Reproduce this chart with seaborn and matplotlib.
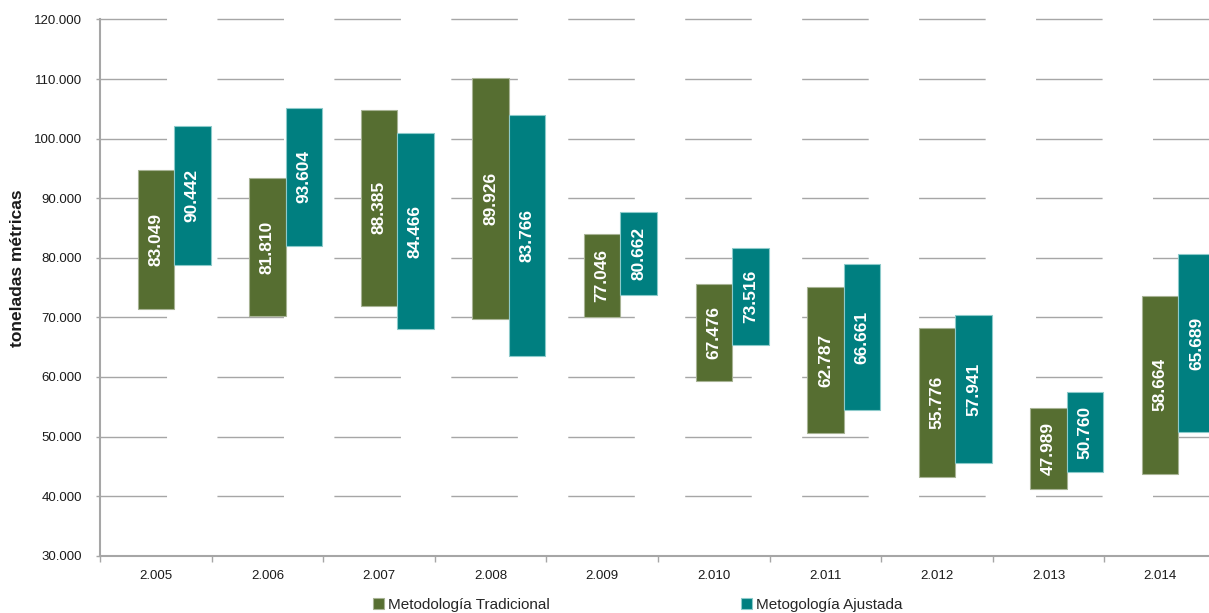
import numpy as np
import pandas as pd
import matplotlib
matplotlib.use('Agg')
import matplotlib.pyplot as plt
from matplotlib.ticker import FuncFormatter
import seaborn as sns

# years on the x axis (shown with a dot, as in the source)
years = ['2.005', '2.006', '2.007', '2.008', '2.009', '2.010', '2.011', '2.012', '2.013', '2.014']

# Metodologia Tradicional: low / high end of each floating bar and its label
trad_low = [71360, 70235, 71964, 69700, 70017, 59376, 50548, 43264, 41249, 43767]
trad_high = [94740, 93397, 104810, 110150, 84049, 75556, 75052, 68221, 54744, 73592]
trad_label = [83049, 81810, 88385, 89926, 77046, 67476, 62787, 55776, 47989, 58664]

# Metogologia Ajustada
ajus_low = [78744, 81984, 68000, 63522, 73710, 65418, 54458, 45512, 44002, 50766]
ajus_high = [102125, 105197, 100900, 103971, 87691, 81598, 78913, 70403, 57480, 80642]
ajus_label = [90442, 93604, 84466, 83766, 80662, 73516, 66661, 57941, 50760, 65689]

green = '#566E31'
teal = '#007F80'

sns.set_style('white')
plt.rcParams['font.family'] = ['Liberation Sans', 'DejaVu Sans']
plt.rcParams['lines.scale_dashes'] = False


def miles(v, pos=None):
    return f'{v:,.0f}'.replace(',', '.')


fig = plt.figure(figsize=(12.09, 6.13), dpi=100)
# the plot runs a little past the right edge of the picture, like the source
ax = fig.add_axes([100 / 1209, 57.3 / 613, 1116 / 1209, 536.2 / 613])

bar_w = 0.327
idx = np.arange(len(years))

df_trad = pd.DataFrame({'pos': idx, 'alto': np.array(trad_high) - np.array(trad_low)})
df_ajus = pd.DataFrame({'pos': idx + bar_w, 'alto': np.array(ajus_high) - np.array(ajus_low)})

sns.barplot(data=df_trad, x='pos', y='alto', bottom=trad_low, native_scale=True, width=bar_w,
            color=green, saturation=1, edgecolor='#A7B394', linewidth=0.8, errorbar=None,
            label='Metodología Tradicional', ax=ax, zorder=3)
sns.barplot(data=df_ajus, x='pos', y='alto', bottom=ajus_low, native_scale=True, width=bar_w,
            color=teal, saturation=1, edgecolor='#8CCACA', linewidth=0.8, errorbar=None,
            label='Metogología Ajustada', ax=ax, zorder=3)
if ax.get_legend() is not None:
    ax.get_legend().remove()

# value labels, rotated, in the middle of each bar
for i in range(len(years)):
    ax.text(idx[i], trad_label[i], miles(trad_label[i]), rotation=90, ha='center', va='center',
            color='white', fontsize=12.5, fontweight='bold', zorder=4)
    ax.text(idx[i] + bar_w, ajus_label[i], miles(ajus_label[i]), rotation=90, ha='center', va='center',
            color='white', fontsize=12.5, fontweight='bold', zorder=4)

ax.set_xlim(-0.5, len(years) - 0.5)
ax.set_ylim(30000, 120000)
ax.set_yticks(np.arange(30000, 120001, 10000))
ax.yaxis.set_major_formatter(FuncFormatter(miles))
ax.set_xticks(idx)
ax.set_xticklabels(years)
ax.set_xticks(np.arange(len(years) + 1) - 0.5, minor=True)
ax.set_xlabel('')
ax.set_ylabel('')

# broken grid lines like in the original
ax.yaxis.grid(True, color='#A6A6A6', lw=1.0, linestyle=(0, (47.9, 36.3)))
ax.xaxis.grid(False)
ax.set_axisbelow(True)
for gl in ax.get_ygridlines():
    gl.set_clip_on(False)
ax.get_ygridlines()[0].set_visible(False)  # the x axis line takes its place

for s in ['top', 'right']:
    ax.spines[s].set_visible(False)
for s in ['left', 'bottom']:
    ax.spines[s].set_color('#A6A6A6')
    ax.spines[s].set_linewidth(1.5)

ax.tick_params(axis='y', left=True, length=3, width=1, color='#A6A6A6', pad=10,
               labelsize=9.5, labelcolor='#1a1a1a')
ax.tick_params(axis='x', which='major', bottom=True, length=0, pad=10,
               labelsize=9.5, labelcolor='#1a1a1a')
ax.tick_params(axis='x', which='minor', bottom=True, length=4, width=1, color='#A6A6A6')

fig.text(18 / 1209, 1 - 268 / 613, 'toneladas métricas', rotation=90, ha='center', va='center',
         fontsize=12.5, fontweight='bold', color='#1a1a1a')

handles, labels = ax.get_legend_handles_labels()
fig.legend(handles, labels, loc='center left', bbox_to_anchor=(373 / 1209, 1 - 605 / 613),
           ncol=2, frameon=False, fontsize=11, handlelength=0.7, handleheight=0.7,
           handletextpad=0.3, columnspacing=12.5, borderpad=0, borderaxespad=0)

fig.savefig('out.png', dpi=100)
